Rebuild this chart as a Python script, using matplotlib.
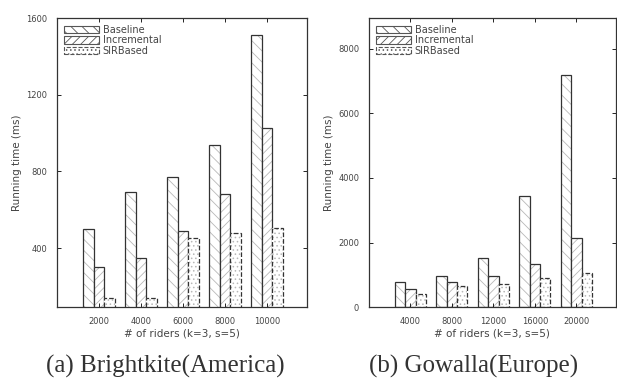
import matplotlib.pyplot as plt
import numpy as np

plt.rcParams['hatch.linewidth'] = 0.6

series = ["Baseline", "Incremental", "SIRBased"]

riders_a = ["2000", "4000", "6000", "8000", "10000"]
baseline_a = [500, 690, 770, 940, 1510]
incremental_a = [300, 350, 490, 680, 1025]
sir_a = [140, 140, 455, 478, 505]

riders_b = ["4000", "8000", "12000", "16000", "20000"]
baseline_b = [775, 960, 1520, 3440, 7200]
incremental_b = [560, 775, 960, 1330, 2140]
sir_b = [400, 650, 710, 900, 1050]

hatches = ["\\\\\\", "////", "...."]
styles = ["-", "-", "--"]

fig = plt.figure(figsize=(6.17, 3.83), dpi=100)
ax1 = fig.add_axes([0.0924, 0.198, 0.405, 0.755])
ax2 = fig.add_axes([0.598, 0.198, 0.400, 0.755])


def draw(ax, labels, vals, ylim, yticks):
    x = np.arange(1, len(labels) + 1)
    w = 0.25
    for i, v in enumerate(vals):
        # light hatch first, then the dark outline on top
        ax.bar(x + (i - 1) * w, v, w, color="white", edgecolor="#b8b8b8",
               hatch=hatches[i], linewidth=0)
        ax.bar(x + (i - 1) * w, v, w, fill=False, edgecolor="#333333",
               linewidth=0.9, linestyle=styles[i])
    # legend proxies
    for i in range(3):
        ax.bar(0, 0, 0, color="white", edgecolor="#555555", hatch=hatches[i],
               linewidth=0.8, linestyle=styles[i], label=series[i])
    ax.set_xlim(0, 5.95)
    ax.set_ylim(*ylim)
    ax.set_xticks(x)
    ax.set_xticklabels(labels, fontsize=6, color="#444444")
    ax.set_yticks(yticks)
    ax.set_yticklabels([str(t) for t in yticks], fontsize=6, color="#444444")
    ax.tick_params(direction="in", top=True, right=True, length=3, width=0.6,
                   pad=7)
    for s in ax.spines.values():
        s.set_linewidth(0.9)
        s.set_color("#333333")
    ax.set_xlabel("# of riders (k=3, s=5)", fontsize=7.5, labelpad=2, color="#444444")
    ax.set_ylabel("Running time (ms)", fontsize=7.5, labelpad=3, color="#444444")
    ax.legend(loc="upper left", frameon=False, fontsize=7, handlelength=3.6,
              handleheight=0.8, labelspacing=0.05, borderaxespad=0.3,
              handletextpad=0.4, labelcolor="#444444")


draw(ax1, riders_a, [baseline_a, incremental_a, sir_a], (92, 1600), [400, 800, 1200, 1600])
draw(ax2, riders_b, [baseline_b, incremental_b, sir_b], (0, 8950), [0, 2000, 4000, 6000, 8000])

fig.text(0.268, 0.042, "(a) Brightkite(America)", family="Liberation Serif",
         fontsize=18, ha="center", va="center", color="#333333")
fig.text(0.767, 0.042, "(b) Gowalla(Europe)", family="Liberation Serif",
         fontsize=18, ha="center", va="center", color="#333333")

fig.savefig("out.png", dpi=100)
